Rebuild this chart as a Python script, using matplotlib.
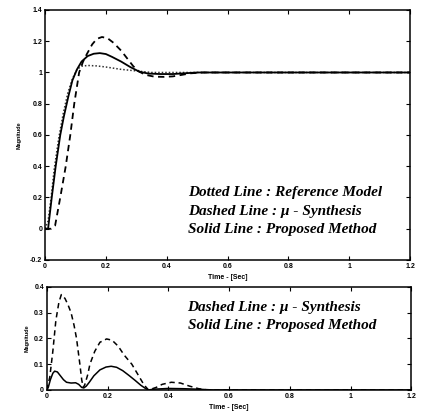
import matplotlib
matplotlib.use("Agg")
import matplotlib.pyplot as plt

# Step response (upper panel)
t_ref = [0, 0.01, 0.02, 0.03, 0.045, 0.06, 0.075, 0.09, 0.105, 0.12, 0.14,
         0.17, 0.2, 0.25, 0.3, 0.35, 1.2]
y_ref = [0, 0.05, 0.2, 0.38, 0.58, 0.74, 0.87, 0.96, 1.02, 1.04, 1.045,
         1.042, 1.035, 1.02, 1.01, 1.0, 1.0]

t_mu = [0, 0.02, 0.033, 0.05, 0.068, 0.083, 0.096, 0.112, 0.125, 0.138, 0.155,
        0.17, 0.187, 0.205, 0.225, 0.25, 0.27, 0.29, 0.31, 0.33, 0.36, 0.39,
        0.42, 0.45, 0.48, 0.52, 1.2]
y_mu = [0, 0, 0.02, 0.2, 0.4, 0.6, 0.8, 1.0, 1.07, 1.12, 1.18,
        1.215, 1.227, 1.22, 1.19, 1.14, 1.09, 1.04, 1.005, 0.985, 0.973, 0.972,
        0.975, 0.985, 0.995, 1.0, 1.0]

t_prop = [0, 0.01, 0.022, 0.035, 0.05, 0.062, 0.077, 0.09, 0.105, 0.12, 0.14,
          0.16, 0.18, 0.2, 0.22, 0.25, 0.28, 0.31, 0.34, 0.38, 0.42, 0.46, 0.5, 1.2]
y_prop = [0, 0, 0.2, 0.4, 0.6, 0.72, 0.85, 0.95, 1.02, 1.07, 1.105,
          1.12, 1.124, 1.118, 1.10, 1.07, 1.035, 1.005, 0.993, 0.99, 0.99, 0.995, 1.0, 1.0]

# Error magnitude (lower panel)
te_mu = [0, 0.01, 0.02, 0.03, 0.04, 0.048, 0.06, 0.07, 0.08, 0.09, 0.098,
         0.109, 0.115, 0.12, 0.125, 0.135, 0.142, 0.158, 0.175, 0.197, 0.215,
         0.235, 0.255, 0.28, 0.30, 0.32, 0.335, 0.36, 0.38, 0.41, 0.44, 0.47,
         0.5, 0.53, 1.2]
e_mu = [0, 0.05, 0.15, 0.27, 0.34, 0.37, 0.355, 0.33, 0.30, 0.25, 0.2,
        0.1, 0.04, 0.01, 0.02, 0.06, 0.1, 0.15, 0.185, 0.198, 0.193,
        0.17, 0.135, 0.1, 0.06, 0.02, 0.0, 0.01, 0.022, 0.03, 0.027, 0.015,
        0.005, 0.0, 0.0]

te_prop = [0, 0.005, 0.012, 0.02, 0.026, 0.035, 0.045, 0.055, 0.065, 0.08,
           0.095, 0.105, 0.115, 0.122, 0.13, 0.14, 0.155, 0.175, 0.195, 0.212,
           0.23, 0.25, 0.27, 0.29, 0.31, 0.325, 0.335, 0.35, 0.4, 0.45, 0.5,
           0.55, 1.2]
e_prop = [0, 0.01, 0.04, 0.065, 0.073, 0.07, 0.055, 0.04, 0.03, 0.027,
          0.028, 0.022, 0.01, 0.008, 0.015, 0.03, 0.055, 0.078, 0.089, 0.092,
          0.088, 0.075, 0.057, 0.038, 0.018, 0.006, 0.0, 0.003, 0.006, 0.005,
          0.003, 0.0, 0.0]

x_ticks = [0, 0.2, 0.4, 0.6, 0.8, 1, 1.2]
x_labels = ["0", "0.2", "0.4", "0.6", "0.8", "1", "1.2"]
y1_ticks = [-0.2, 0, 0.2, 0.4, 0.6, 0.8, 1, 1.2, 1.4]
y1_labels = ["-0.2", "0", "0.2", "0.4", "0.6", "0.8", "1", "1.2", "1.4"]
y2_ticks = [0, 0.1, 0.2, 0.3, 0.4]
y2_labels = ["0", "0.1", "0.2", "0.3", "0.4"]

leg_top = ["Dotted Line : Reference Model",
           "Dashed Line : \u03bc - Synthesis",
           "Solid Line : Proposed Method"]
leg_bot = ["Dashed Line : \u03bc - Synthesis",
           "Solid Line : Proposed Method"]

tick_font = dict(family="Liberation Sans", weight="bold", size=5)
leg_font = dict(family="Liberation Serif", weight="bold", style="italic", size=11)

fig = plt.figure(figsize=(4.25, 4.16), dpi=100)
ax1 = fig.add_axes([0.106, 0.375, 0.859, 0.601])
ax2 = fig.add_axes([0.11, 0.0625, 0.858, 0.248])

ax1.plot(t_ref, y_ref, color="#333333", linestyle=(0, (1, 1.3)), lw=1.1)
ax1.plot(t_mu, y_mu, color="black", linestyle=(0, (3.5, 2.5)), lw=1.3)
ax1.plot(t_prop, y_prop, color="black", lw=1.3)
ax1.set_xlim(0, 1.2)
ax1.set_ylim(-0.2, 1.4)
ax1.set_yticks(y1_ticks)
ax1.set_yticklabels(y1_labels, fontdict=tick_font)
ax1.set_ylabel("Magnitude", fontdict=dict(tick_font, size=4), labelpad=6)

ax2.plot(te_mu, e_mu, color="black", linestyle=(0, (3.5, 2.5)), lw=1.1)
ax2.plot(te_prop, e_prop, color="black", lw=1.1)
ax2.set_xlim(0, 1.2)
ax2.set_ylim(0, 0.4)
ax2.set_yticks(y2_ticks)
ax2.set_yticklabels(y2_labels, fontdict=tick_font)
ax2.set_ylabel("Magnitude", fontdict=dict(tick_font, size=4), labelpad=3)

for ax in (ax1, ax2):
    ax.set_xticks(x_ticks)
    ax.set_xticklabels(x_labels, fontdict=tick_font)
    ax.set_xlabel("Time - [Sec]", fontdict=tick_font, labelpad=3)
    ax.tick_params(direction="in", length=3, width=0.8, top=True, right=True, pad=2)
    for sp in ax.spines.values():
        sp.set_linewidth(1.1)

for i, s in enumerate(leg_top):
    ax1.text(0.392, 0.268 - i * 0.074, s, transform=ax1.transAxes,
             va="center", fontdict=leg_font)
for i, s in enumerate(leg_bot):
    ax2.text(0.386, 0.796 - i * 0.175, s, transform=ax2.transAxes,
             va="center", fontdict=leg_font)

fig.savefig("out.png", dpi=100)
